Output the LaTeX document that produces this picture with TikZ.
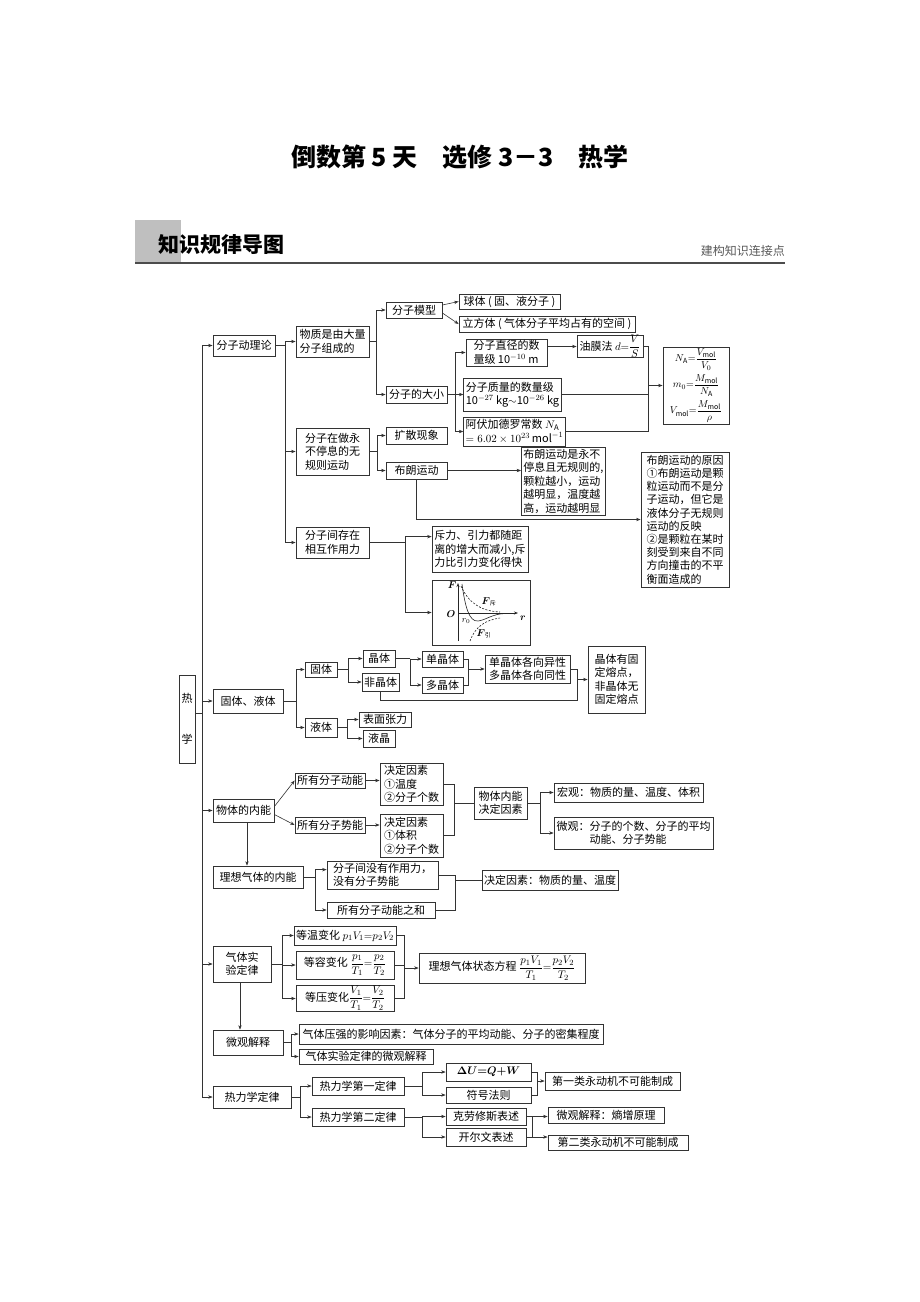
\documentclass[tikz,border=0pt]{standalone}
\usepackage{amsmath}
\usepackage{fontspec}
\setmainfont{Noto Sans CJK SC}
\usetikzlibrary{arrows.meta,calc}
\newcommand\myfs{\fontsize{11}{13.5}\selectfont}
\newcommand\mybox[7][]{\node[box,minimum width={(#5-#3)*1pt},minimum height={(#6-#4)*1pt},#1] (#2) at ({(#3+#5)/2},{(#4+#6)/2}) {#7};}
\newcommand\myfork[3]{\coordinate (tmpf) at (#2,0); \draw[ln] (#1.east) -- (#1.east -| tmpf); \foreach \tg in {#3}{\draw[arr] (#1.east -| tmpf) |- (\tg);}}
\begin{document}
\begin{tikzpicture}[x=1pt,y=-1pt,
 box/.style={draw=black!80,line width=0.75pt,inner xsep=2pt,inner ysep=1pt,font=\myfs,align=center},
 ln/.style={draw=black!80,line width=0.6pt},
 arr/.style={ln,-{Stealth[length=4.5pt,width=3.4pt]}}]
\useasboundingbox[fill=white] (0,0) rectangle (920,1302);
% header
\node[font=\fontsize{25}{30}\selectfont\bfseries] (title) at (460,157) {倒数第 5 天　选修 3－3　热学};
\fill[black!25] (135,220) rectangle (181,262);
\node[font=\fontsize{21}{24}\selectfont\bfseries, anchor=west, inner sep=0pt] (hd) at (158,245) {知识规律导图};
\node[font=\fontsize{12}{14}\selectfont, text=black!65, anchor=east, inner sep=0pt] (hd2) at (785,251) {建构知识连接点};
\draw[black!70, line width=2pt] (135,263) -- (785,263);
% root and main column
\mybox{re}{179}{675}{195}{763}{热\\[28pt]学}
\mybox{kin}{213}{335}{275}{356}{分子动理论}
\mybox{gy}{213}{689}{283}{713}{固体、液体}
\mybox{nn}{213}{799}{274}{822}{物体的内能}
\mybox{lx}{213}{866}{303}{888}{理想气体的内能}
\mybox{qt}{213}{946}{271}{982}{气体实\\验定律}
\mybox{wg}{213}{1030}{283}{1055}{微观解释}
\mybox{rl}{213}{1086}{291}{1108}{热力学定律}
\coordinate (tr) at (202,0);
\draw[ln] (tr |- kin.west) -- (tr |- rl.west);
\foreach \tg in {kin,gy,nn,qt,rl} \draw[arr] (tr |- \tg.west) -- (\tg.west);
\draw[ln] (re.east |- 0,713) -- (tr |- 0,713);
\draw[arr] (nn.south -| 247,0) -- (lx.north -| 247,0);
\draw[arr] (qt.south -| 240,0) -- (wg.north -| 240,0);
% kinetic theory
\mybox[align=left]{wz}{296}{326}{369}{357}{物质是由大量\\分子组成的}
\mybox[align=left]{yd}{296}{428}{369}{475}{分子在做永\\不停息的无\\规则运动}
\mybox[align=left]{xh}{296}{527}{369}{558}{分子间存在\\相互作用力}
\myfork{kin}{285}{wz.west,yd.west,xh.west}
\mybox{mx}{386}{302}{442}{318}{分子模型}
\mybox{dx}{386}{386}{447}{403}{分子的大小}
\myfork{wz}{376}{mx.west,dx.west}
\mybox{qt1}{459}{294}{560}{309}{球体 ( 固、液分子 )}
\mybox{lf}{459}{316}{635}{332}{立方体 ( 气体分子平均占有的空间 )}
\draw[arr] ($(mx.east)+(0,-5)$) -- (qt1.west);
\draw[arr] ($(mx.east)+(0,3)$) -- (lf.west);
\mybox[align=left]{zj}{466}{339}{547}{366}{分子直径的数\\量级 10$^{-10}$ m}
\mybox[align=left]{zl}{466}{378}{559}{411}{分子质量的数量级\\10$^{-27}$ kg$\sim$10$^{-26}$ kg}
\mybox[align=left]{av}{466}{417}{563}{446}{阿伏加德罗常数 $N_{\mathrm{A}}$\\[1pt]$=6.02\times10^{23}\,\mathrm{mol}^{-1}$}
\myfork{dx}{455}{zj.west,zl.west,av.west}
\mybox[inner ysep=0pt]{ym}{577}{336}{643}{357}{油膜法 $d{=}\dfrac{V}{S}$}
\draw[arr] (zj.east |- ym.west) -- (ym.west);
\mybox[inner ysep=0pt,font=\fontsize{10}{12}\selectfont]{gs}{663}{347}{729}{424}{$N_{\mathrm{A}}{=}\dfrac{V_{\mathrm{mol}}}{V_0}$\\[3pt]$m_0{=}\dfrac{M_{\mathrm{mol}}}{N_{\mathrm{A}}}$\\[3pt]$V_{\mathrm{mol}}{=}\dfrac{M_{\mathrm{mol}}}{\rho}$}
\coordinate (b1) at (648,0);
\draw[ln] (ym.east) -- (ym.east -| b1) -- (b1 |- av.east) -- (av.east);
\draw[ln] (zl.east) -- (zl.east -| b1);
\draw[arr] (b1 |- gs.west) -- (gs.west);
\mybox{ks}{386}{427}{447}{444}{扩散现象}
\mybox{bl}{386}{462}{447}{479}{布朗运动}
\myfork{yd}{377}{ks.west,bl.west}
\mybox[align=left]{bt}{523}{447}{604}{515}{布朗运动是永不\\停息且无规则的,\\颗粒越小，运动\\越明显，温度越\\高，运动越明显}
\draw[arr] (bl.east) -- (bt.west |- bl.east);
\mybox[align=left,font=\fontsize{11}{13.2}\selectfont]{yy}{641}{452}{729}{587}{布朗运动的原因\\①布朗运动是颗\\粒运动而不是分\\子运动，但它是\\液体分子无规则\\运动的反映\\②是颗粒在某时\\刻受到来自不同\\方向撞击的不平\\衡面造成的}
\draw[arr] (bl.south) |- (yy.west);
\mybox[align=left]{cl}{432}{526}{528}{572}{斥力、引力都随距\\离的增大而减小,斥\\力比引力变化得快}
\mybox{gr}{432}{580}{530}{645}{}
\coordinate (f5) at (405,0);
\coordinate (clin) at ($(cl.north west)+(0,11)$);
\draw[ln] (xh.east) -- (xh.east -| f5);
\draw[arr] (xh.east -| f5) |- (clin);
\draw[arr] (xh.east -| f5) |- (gr.west);
% graph
\begin{scope}[line width=0.6pt, black!85]
\draw[-{Stealth[length=4pt,width=3pt]}] (458,641) -- (458,583);
\draw[-{Stealth[length=4pt,width=3pt]}] (458,613) -- (518,613);
\draw[dash pattern=on 2pt off 1.5pt] (461,586) .. controls (468,602) and (480,611) .. (500,612);
\draw (462,584) .. controls (465,606) and (469,622) .. (478,621) .. controls (486,620) and (492,614) .. (505,613.5);
\draw[dash pattern=on 2pt off 1.5pt] (470,641) .. controls (475,627) and (485,620) .. (500,618);
\end{scope}
\node[inner sep=0pt] (gF) at (452,585) {$\boldsymbol{F}$};
\node[inner sep=0pt] (gO) at (451,614) {$\boldsymbol{O}$};
\node[inner sep=0pt] (gr0) at (523,618) {$\boldsymbol{r}$};
\node[inner sep=0pt,font=\fontsize{9}{9}\selectfont] (gr00) at (466,621) {$r_0$};
\node[inner sep=0pt] (gFc) at (489,602) {$\boldsymbol{F}_{\mbox{\fontsize{6}{6}\selectfont 斥}}$};
\node[inner sep=0pt] (gFy) at (484,634) {$\boldsymbol{F}_{\mbox{\fontsize{6}{6}\selectfont 引}}$};
% solids and liquids
\mybox{gt}{305}{662}{337}{677}{固体}
\mybox{yt}{305}{718}{337}{737}{液体}
\myfork{gy}{296}{gt.west,yt.west}
\mybox{jt}{363}{650}{395}{667}{晶体}
\mybox{fj}{363}{673}{398}{691}{非晶体}
\myfork{gt}{348}{jt.west,fj.west}
\mybox{dj}{422}{651}{463}{667}{单晶体}
\mybox{dd}{422}{677}{463}{693}{多晶体}
\myfork{jt}{410}{dj.west,dd.west}
\mybox[align=left]{gx}{485}{655}{570}{683}{单晶体各向异性\\多晶体各向同性}
\coordinate (b2) at (468,0);
\draw[ln] (dj.east) -- (dj.east -| b2) -- (b2 |- dd.east) -- (dd.east);
\draw[arr] (b2 |- gx.west) -- (gx.west);
\mybox[align=left]{rd}{588}{646}{645}{713}{晶体有固\\定熔点，\\非晶体无\\固定熔点}
\coordinate (b3) at (577,0);
\draw[ln] (gx.east) -- (gx.east -| b3);
\draw[ln] (fj.south) |- (b3 |- 0,700) -- (b3 |- gx.east);
\draw[arr] (b3 |- rd.west) -- (rd.west);
\mybox{bm}{359}{712}{411}{727}{表面张力}
\mybox{yj}{363}{730}{395}{747}{液晶}
\myfork{yt}{347}{bm.west,yj.west}
% internal energy
\mybox{dn}{295}{773}{365}{788}{所有分子动能}
\mybox{sn}{295}{817}{365}{833}{所有分子势能}
\draw[arr] ($(nn.east)+(0,-4)$) -- (dn.west);
\draw[arr] ($(nn.east)+(0,4)$) -- (sn.west);
\mybox[align=left]{jd1}{380}{763}{443}{805}{决定因素\\①温度\\②分子个数}
\mybox[align=left]{jd2}{380}{814}{443}{857}{决定因素\\①体积\\②分子个数}
\draw[arr] (dn.east) -- (jd1.west |- dn.east);
\draw[arr] (sn.east) -- (jd2.west |- sn.east);
\coordinate (b4) at (454,0);
\draw[ln] (jd1.east) -- (jd1.east -| b4) -- (b4 |- jd2.east) -- (jd2.east);
\mybox{nd}{474}{787}{527}{819}{物体内能\\决定因素}
\draw[ln] (b4 |- nd.west) -- (nd.west);
\mybox[align=left]{hg}{554}{783}{703}{802}{宏观：物质的量、温度、体积}
\mybox[align=left]{wgg}{554}{817}{713}{849}{微观：分子的个数、分子的平均\\\hspace*{3em}动能、分子势能}
\myfork{nd}{540}{hg.west,wgg.west}
% ideal gas internal energy
\mybox[align=left]{mz}{327}{861}{438}{889}{分子间没有作用力，\\没有分子势能}
\mybox{dh}{327}{902}{435}{918}{所有分子动能之和}
\coordinate (f8) at (315,0);
\coordinate (mzin) at ($(mz.north west)+(0,9)$);
\draw[ln] (lx.east) -- (lx.east -| f8);
\draw[arr] (lx.east -| f8) |- (mzin);
\draw[arr] (lx.east -| f8) |- (dh.west);
\coordinate (b5) at (455,0);
\draw[ln] (mz.east) -- (mz.east -| b5) -- (b5 |- dh.east) -- (dh.east);
\mybox{js}{484}{870}{616}{890}{决定因素：物质的量、温度}
\draw[ln] (b5 |- js.west) -- (js.west);
% gas laws
\mybox{dw}{296}{926}{394}{945}{等温变化 $p_1V_1{=}p_2V_2$}
\mybox{dr}{296}{951}{394}{979}{等容变化 $\dfrac{p_1}{T_1}{=}\dfrac{p_2}{T_2}$}
\mybox{dy}{296}{986}{394}{1011}{等压变化$\dfrac{V_1}{T_1}{=}\dfrac{V_2}{T_2}$}
\myfork{qt}{282}{dw.west,dr.west,dy.west}
\coordinate (b6) at (404,0);
\draw[ln] (dw.east) -- (dw.east -| b6) -- (b6 |- dy.east) -- (dy.east);
\draw[ln] (dr.east) -- (dr.east -| b6);
\mybox{lt}{419}{953}{585}{983}{理想气体状态方程 $\dfrac{p_1V_1}{T_1}{=}\dfrac{p_2V_2}{T_2}$}
\draw[arr] (b6 |- lt.west) -- (lt.west);
% micro explanation
\mybox{yq}{299}{1024}{603}{1044}{气体压强的影响因素：气体分子的平均动能、分子的密集程度}
\mybox{sy}{299}{1049}{433}{1064}{气体实验定律的微观解释}
\myfork{wg}{291}{yq.west,sy.west}
% thermodynamics
\mybox{d1}{312}{1077}{404}{1095}{热力学第一定律}
\mybox{d2}{312}{1108}{404}{1126}{热力学第二定律}
\myfork{rl}{300}{d1.west,d2.west}
\mybox[font=\myfs\boldmath]{du}{446}{1063}{531}{1081}{$\Delta U{=}Q{+}W$}
\mybox{fh}{446}{1087}{531}{1103}{符号法则}
\myfork{d1}{422}{du.west,fh.west}
\coordinate (b7) at (537,0);
\draw[ln] (du.east) -- (du.east -| b7) -- (b7 |- fh.east) -- (fh.east);
\mybox{yl}{545}{1072}{680}{1090}{第一类永动机不可能制成}
\draw[arr] (b7 |- yl.west) -- (yl.west);
\mybox{kl}{446}{1108}{526}{1125}{克劳修斯表述}
\mybox{ke}{446}{1128}{526}{1146}{开尔文表述}
\myfork{d2}{422}{kl.west,ke.west}
\coordinate (b8) at (532,0);
\draw[ln] (kl.east) -- (kl.east -| b8) -- (b8 |- ke.east) -- (ke.east);
\mybox{sz}{548}{1107}{664}{1123}{微观解释：熵增原理}
\mybox{el}{548}{1135}{688}{1150}{第二类永动机不可能制成}
\draw[arr] (b8 |- kl.east) -- (sz.west |- kl.east);
\draw[arr] (b8 |- ke.east) -- (el.west |- ke.east);
\end{tikzpicture}
\end{document}
